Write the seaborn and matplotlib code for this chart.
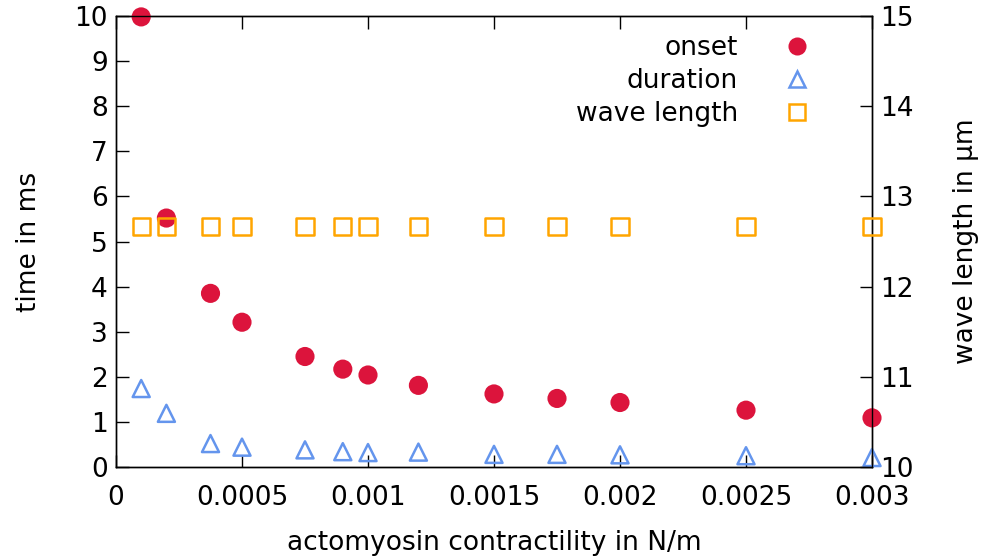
import matplotlib
matplotlib.use("Agg")
import matplotlib.pyplot as plt
import seaborn as sns
import pandas as pd
from matplotlib.lines import Line2D

contractility = [0.0001, 0.0002, 0.000375, 0.0005, 0.00075, 0.0009, 0.001,
                 0.0012, 0.0015, 0.00175, 0.002, 0.0025, 0.003]
onset = [9.98, 5.52, 3.85, 3.21, 2.45, 2.17, 2.04, 1.81, 1.62, 1.52, 1.43, 1.26, 1.09]
duration = [1.74, 1.19, 0.52, 0.44, 0.38, 0.34, 0.32, 0.33, 0.28, 0.28, 0.27, 0.25, 0.21]
wave_length = [12.67] * 13

xticks = [0, 0.0005, 0.001, 0.0015, 0.002, 0.0025, 0.003]
xticklabels = ["0", "0.0005", "0.001", "0.0015", "0.002", "0.0025", "0.003"]

sns.set_theme(style="ticks")
plt.rcParams['font.family'] = ['DejaVu Sans']
plt.rcParams['text.color'] = 'black'
plt.rcParams['axes.labelcolor'] = 'black'
plt.rcParams['xtick.color'] = 'black'
plt.rcParams['ytick.color'] = 'black'
FS = 19

df = pd.DataFrame({"x": contractility, "onset": onset,
                   "duration": duration, "wave": wave_length})

fig = plt.figure(figsize=(9.81, 5.58), dpi=100)
ax = fig.add_axes([116/981, 1-467/558, (872-116)/981, (467-16)/558])
ax2 = ax.twinx()

c_on, c_du, c_wl = "#DC143C", "#6495ED", "#FFA500"

sns.scatterplot(data=df, x="x", y="onset", ax=ax, color=c_on, marker="o",
                s=190, edgecolor="none", zorder=3, clip_on=False)
sns.scatterplot(data=df, x="x", y="duration", ax=ax, marker="^", s=150,
                facecolor="none", edgecolor=c_du, linewidth=1.8, zorder=3,
                clip_on=False)
sns.scatterplot(data=df, x="x", y="wave", ax=ax2, marker="s", s=150,
                facecolor="none", edgecolor=c_wl, linewidth=1.8, zorder=3,
                clip_on=False)

ax.set_xlim(0, 0.003)
ax.set_ylim(0, 10)
ax2.set_ylim(10, 15)
ax.set_xticks(xticks)
ax.set_xticklabels(xticklabels)
ax.set_yticks(range(0, 11))
ax2.set_yticks(range(10, 16))

for a in (ax, ax2):
    for s in a.spines.values():
        s.set_linewidth(1.0)
        s.set_color("black")
ax.tick_params(axis="x", direction="in", length=9, width=1, top=True,
               labelsize=FS, pad=13, colors="black")
ax.tick_params(axis="y", direction="in", length=9, width=1, right=False,
               labelsize=FS, pad=6, colors="black")
ax2.tick_params(axis="y", direction="in", length=9, width=1,
                labelsize=FS, pad=6, colors="black")

ax.set_xlabel("actomyosin contractility in N/m", fontsize=FS, labelpad=14)
ax.set_ylabel("time in ms", fontsize=FS, labelpad=23)
ax2.set_ylabel("wave length in µm", fontsize=FS, labelpad=28)

handles = [
    Line2D([], [], ls="none", marker="o", ms=13, color=c_on, mec="none"),
    Line2D([], [], ls="none", marker="^", ms=11, mfc="none", mec=c_du, mew=1.8),
    Line2D([], [], ls="none", marker="s", ms=11, mfc="none", mec=c_wl, mew=1.8),
]
leg = ax.legend(handles, ["onset", "duration", "wave length"], markerfirst=False,
                loc="upper right", bbox_to_anchor=(0.9357, 0.958), frameon=False,
                fontsize=FS, handletextpad=1.23, handlelength=2.0,
                labelspacing=0.27, borderaxespad=0, borderpad=0)
for t in leg.get_texts():
    t.set_ha("right")
leg.set_zorder(5)

fig.savefig("out.png", dpi=100)
